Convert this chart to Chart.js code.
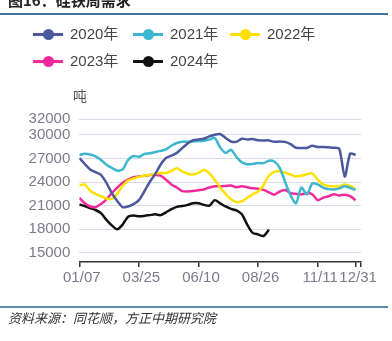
<!DOCTYPE html>
<html><head><meta charset="utf-8">
<script src="https://cdn.jsdelivr.net/npm/chart.js@4"></script>
<style>
html,body{margin:0;padding:0;background:#fff;width:392px;height:341px;overflow:hidden;}
#wrap{position:relative;width:392px;height:341px;font-family:"Liberation Sans",Arial,"Noto Sans CJK SC",sans-serif;}
canvas{position:absolute;left:0;top:0;}
.title{position:absolute;left:8px;top:-8px;font-size:15px;line-height:15px;font-weight:bold;color:#222;font-family:"Noto Sans CJK SC",sans-serif;white-space:nowrap;}
.rule{position:absolute;left:0;width:388px;height:2px;}
.item{position:absolute;height:20px;}
.item .ln{position:absolute;left:0;top:8.5px;width:30px;height:3px;}
.item .dt{position:absolute;left:9.5px;top:4.5px;width:11px;height:11px;border-radius:50%;}
.item .tx{position:absolute;left:37px;top:0;line-height:20px;font-size:15px;color:#444;white-space:nowrap;}
.unit{position:absolute;left:73px;top:86px;font-size:14px;line-height:18px;color:#555;font-family:"Noto Sans CJK SC",sans-serif;}
.foot{position:absolute;left:8px;top:308px;font-size:13px;line-height:19px;color:#333;font-style:italic;font-family:"Noto Sans CJK SC",sans-serif;white-space:nowrap;}
</style></head>
<body><div id="wrap">
<canvas id="c" width="392" height="341"></canvas>
<div class="title">图16：硅铁周需求</div>
<div class="rule" style="top:12.5px;background:#3f73a5;"></div>
<div id="legend"></div>
<div class="unit">吨</div>
<div class="rule" style="top:306px;background:#5d89ad;"></div>
<div class="foot">资料来源：同花顺，方正中期研究院</div>
</div>
<script>
const seriesNames = ['2020年','2021年','2022年','2023年','2024年'];
const seriesColors = ['#4d599e','#3db7cf','#ffe100','#f02a9a','#111111'];
const y2020 = [27050,26300,25600,25250,24900,23900,22600,21600,20800,20900,21200,21700,22800,24000,25000,26200,27050,27350,27700,28300,28900,29300,29400,29500,29800,30000,30100,29600,29150,29100,29500,29400,29450,29300,29280,29280,29100,29150,29100,28800,28350,28320,28320,28600,28450,28450,28400,28350,28200,24700,27600,27450];
const y2021 = [27450,27600,27500,27250,26800,26200,25800,25450,25600,26800,27300,27200,27550,27650,27800,27950,28150,28600,28950,29100,29100,29150,29200,29250,29400,29600,28400,27700,28100,27200,26500,26250,26300,26400,26400,26700,26600,25800,24000,22300,21300,23300,22400,23800,23700,23300,23100,23050,23200,23450,23250,23000];
const y2022 = [23550,23700,22900,22500,22200,21900,21850,22500,23500,24200,24450,24650,24800,24900,25050,25150,25150,25400,25750,25350,25050,24950,25150,25550,25100,24300,23300,22500,21800,21450,21550,22000,22450,22800,23600,24800,25300,25350,25200,24950,24700,24800,25000,25100,24300,23700,23500,23450,23450,23700,23500,23100];
const y2023 = [22000,21300,20900,20800,21200,21800,22600,23300,23900,24300,24600,24700,24800,24900,24900,24800,24300,23700,23300,22850,22800,22850,22950,23050,23300,23450,23450,23500,23550,23350,23450,23350,23200,23150,23000,22700,22400,22800,23000,22600,22500,22450,22600,22450,21700,22000,22200,22450,22300,22400,22200,21700];
const y2024 = [21150,20950,20700,20450,20050,19200,18500,18000,18600,19600,19750,19650,19700,19800,19900,19800,20150,20550,20850,20950,21100,21300,21300,21100,21000,21700,21300,20900,20600,20400,19900,18600,17550,17350,17150,17950];
const xTickPos = [0,11,22,33,44,51,52];
const xTickLabels = ['01/07','03/25','06/10','08/26','11/11','12/31',''];
const yTickVals = [15000,18000,21000,24000,27000,30000,32000];

const allSeries = [y2020,y2021,y2022,y2023,y2024];

// legend
const legendPos = [[33,24.3],[133,24.3],[230,24.3],[33,51],[133,51]];
const lg = document.getElementById('legend');
seriesNames.forEach((n,i)=>{
  const d=document.createElement('div');
  d.className='item';
  d.style.left=legendPos[i][0]+'px';
  d.style.top=legendPos[i][1]+'px';
  d.innerHTML='<span class="ln" style="background:'+seriesColors[i]+'"></span><span class="dt" style="background:'+seriesColors[i]+'"></span><span class="tx">'+n+'</span>';
  lg.appendChild(d);
});

const fontFam = '"Liberation Sans", Arial, sans-serif';
new Chart(document.getElementById('c'), {
  type:'line',
  data:{datasets: allSeries.map((s,i)=>({
    label: seriesNames[i],
    data: s.map((v,k)=>({x:k,y:v})),
    borderColor: seriesColors[i],
    backgroundColor: seriesColors[i],
    borderWidth: 2.5,
    pointRadius: 0,
    tension: 0.25,
    fill:false
  }))},
  options:{
    responsive:false, animation:false,
    layout:{padding:{left:0,right:31,top:119,bottom:49}},
    plugins:{legend:{display:false},tooltip:{enabled:false}},
    scales:{
      x:{type:'linear',min:0,max:52,
        afterBuildTicks:(s)=>{s.ticks=xTickPos.map(v=>({value:v}));},
        afterFit:(s)=>{s.height=30;},
        ticks:{autoSkip:false,maxRotation:0,padding:2,labelOffset:2.5,color:'#7b7b8b',font:{size:15,family:fontFam},
          callback:(v)=>{const k=xTickPos.indexOf(v);return k>=0?xTickLabels[k]:'';}},
        grid:{drawOnChartArea:false,drawTicks:true,tickLength:5,color:'#333',lineWidth:1.5},
        border:{display:true,color:'#333',width:1.5}
      },
      y:{type:'linear',min:13850,max:32000,
        afterBuildTicks:(s)=>{s.ticks=yTickVals.map(v=>({value:v}));},
        afterFit:(s)=>{s.width=79.3;},
        ticks:{padding:9,color:'#7b7b8b',font:{size:15,family:fontFam},callback:(v)=>String(v)},
        grid:{color:'#d9dbe9',lineWidth:1,drawTicks:false},
        border:{display:false}
      }
    }
  }
});
</script>
</body></html>
